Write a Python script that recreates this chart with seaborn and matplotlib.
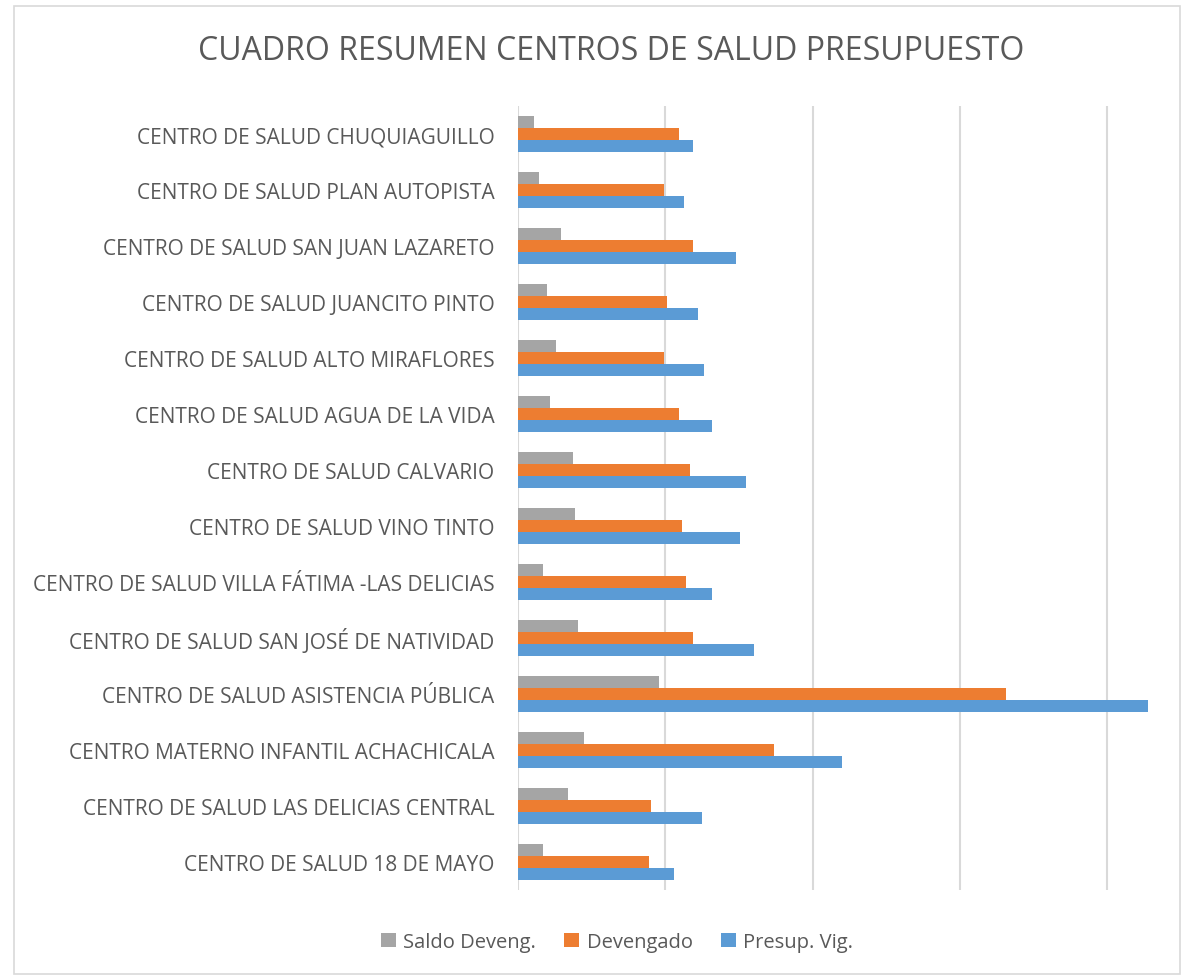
import pandas as pd
import seaborn as sns
import matplotlib.pyplot as plt
from matplotlib.patches import Rectangle

# centros de salud, de arriba hacia abajo
centros = ['CENTRO DE SALUD CHUQUIAGUILLO',
           'CENTRO DE SALUD PLAN AUTOPISTA',
           'CENTRO DE SALUD SAN JUAN LAZARETO',
           'CENTRO DE SALUD JUANCITO PINTO',
           'CENTRO DE SALUD ALTO MIRAFLORES',
           'CENTRO DE SALUD AGUA DE LA VIDA',
           'CENTRO DE SALUD CALVARIO',
           'CENTRO DE SALUD VINO TINTO',
           'CENTRO DE SALUD VILLA FÁTIMA -LAS DELICIAS',
           'CENTRO DE SALUD SAN JOSÉ DE NATIVIDAD',
           'CENTRO DE SALUD ASISTENCIA PÚBLICA',
           'CENTRO MATERNO INFANTIL ACHACHICALA',
           'CENTRO DE SALUD LAS DELICIAS CENTRAL',
           'CENTRO DE SALUD 18 DE MAYO']

# valores estimados del grafico (Bs)
presup_vig = [1190000, 1130000, 1480000, 1220000, 1260000, 1320000, 1550000,
              1510000, 1320000, 1600000, 4280000, 2200000, 1250000, 1060000]
devengado = [1090000, 990000, 1190000, 1010000, 990000, 1090000, 1170000,
             1110000, 1140000, 1190000, 3310000, 1740000, 900000, 890000]
saldo_deveng = [110000, 140000, 290000, 200000, 260000, 220000, 370000,
                390000, 170000, 410000, 960000, 450000, 340000, 170000]

series = ['Saldo Deveng.', 'Devengado', 'Presup. Vig.']
colores = ['#A5A5A5', '#ED7D31', '#5B9BD5']

df = pd.DataFrame({'centro': centros,
                   'Saldo Deveng.': saldo_deveng,
                   'Devengado': devengado,
                   'Presup. Vig.': presup_vig})
df_long = df.melt(id_vars='centro', var_name='serie', value_name='monto')

sns.set_style('white')
plt.rcParams['font.family'] = ['Open Sans', 'DejaVu Sans']

fig = plt.figure(figsize=(11.88, 9.78), dpi=100)
ax = fig.add_axes([518/1188, 87/978, 642/1188, 784/978])

sns.barplot(data=df_long, x='monto', y='centro', hue='serie', hue_order=series,
            palette=colores, order=centros, orient='h', width=0.66, gap=0,
            saturation=1, linewidth=0, ax=ax, legend=True)

ax.set_xlim(0, 642/147.3*1000000)
ax.set_ylim(13.5, -0.5)
ax.set_xticks([0, 1000000, 2000000, 3000000, 4000000])
ax.set_xticklabels([])
ax.tick_params(axis='x', length=0)
ax.tick_params(axis='y', length=0, labelsize=15, labelcolor='#595959', pad=17)
ax.grid(axis='x', color='#D9D9D9', linewidth=1.5)
ax.set_axisbelow(True)
for s in ['top', 'right', 'bottom', 'left']:
    ax.spines[s].set_visible(False)
ax.set_xlabel('')
ax.set_ylabel('')

ax.legend(loc='center', bbox_to_anchor=(617/1188, 1 - 943/978),
          bbox_transform=fig.transFigure, ncol=3, frameon=False,
          fontsize=14.5, handlelength=0.75, handleheight=0.75,
          columnspacing=1.4, handletextpad=0.35, labelcolor='#595959')

fig.text(611/1188, 1 - 51/978, 'CUADRO RESUMEN CENTROS DE SALUD PRESUPUESTO',
         ha='center', va='center', fontsize=23, color='#595959')

# marco del grafico
fig.patches.append(Rectangle((14/1188, 3/978), 1166/1188, 968/978,
                             transform=fig.transFigure, fill=False,
                             edgecolor='#D9D9D9', linewidth=1.2))

plt.savefig('out.png', dpi=100)
